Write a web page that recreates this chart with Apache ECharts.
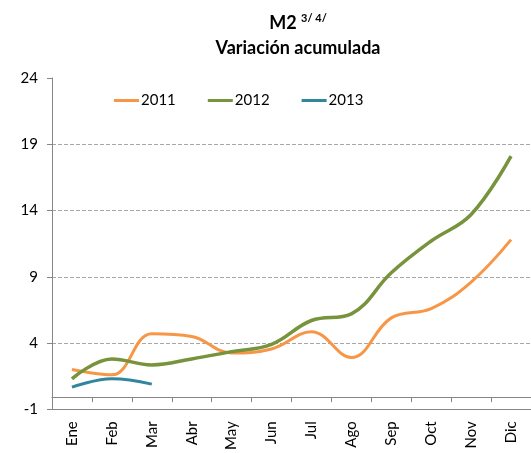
<!DOCTYPE html>
<html>
<head>
<meta charset="utf-8">
<script src="https://cdn.jsdelivr.net/npm/echarts@6/dist/echarts.min.js"></script>
<style>
  html, body { margin: 0; padding: 0; background: #fff; }
  #chart { width: 531px; height: 453px; }
</style>
</head>
<body>
<div id="chart"></div>
<script>
  // meses
  var months = ['Ene', 'Feb', 'Mar', 'Abr', 'May', 'Jun', 'Jul', 'Ago', 'Sep', 'Oct', 'Nov', 'Dic'];
  var yTicks = [-1, 4, 9, 14, 19, 24];

  var data2011 = [2.0, 1.6, 4.7, 4.5, 3.25, 3.55, 4.85, 2.9, 5.9, 6.6, 8.6, 11.8];
  var data2012 = [1.3, 2.8, 2.35, 2.8, 3.35, 3.9, 5.7, 6.2, 9.3, 11.7, 13.7, 18.1];
  var data2013 = [0.67, 1.3, 0.9];

  var font = 'Lato';
  var myChart = echarts.init(document.getElementById('chart'));

  var option = {
    backgroundColor: '#fff',
    animation: false,
    textStyle: { fontFamily: font },
    title: [
      {
        text: '{a|M2} {b|3/ 4/}',
        left: 293,
        textAlign: 'center',
        top: 8,
        textStyle: {
          rich: {
            a: { fontFamily: font, fontSize: 18, fontWeight: 'bold', color: '#000' },
            b: { fontFamily: font, fontSize: 11, fontWeight: 'bold', color: '#000', padding: [0, 0, 9, 0] }
          }
        }
      },
      {
        text: 'Variación acumulada',
        left: 293,
        textAlign: 'center',
        top: 34,
        textStyle: { fontFamily: font, fontSize: 18, fontWeight: 'bold', color: '#000' }
      }
    ],
    legend: {
      left: 114,
      top: 93,
      padding: 0,
      icon: 'rect',
      itemWidth: 25,
      itemHeight: 3,
      itemGap: 32,
      textStyle: { fontFamily: font, fontSize: 15, color: '#000', padding: [0, 0, 0, -3] },
      data: ['2011', '2012', '2013']
    },
    grid: [
      { left: 52, right: -8, top: 78, bottom: 42.5 },
      // franja entre 0 y -1, solo para dibujar el eje de categorías en cero
      { left: 52, right: -8, top: 397.2, bottom: 42.5 }
    ],
    xAxis: [
      {
        type: 'category',
        gridIndex: 0,
        data: months,
        position: 'bottom',
        boundaryGap: true,
        axisLine: { onZero: false, lineStyle: { color: '#868686', width: 1 } },
        axisTick: { show: false },
        axisLabel: {
          rotate: 90,
          margin: 12,
          fontFamily: font,
          fontSize: 15,
          color: '#000'
        },
        splitLine: { show: false }
      },
      {
        type: 'category',
        gridIndex: 1,
        data: months,
        position: 'top',
        boundaryGap: true,
        axisLine: { show: true, onZero: false, lineStyle: { color: '#868686', width: 1 } },
        axisTick: { show: true, inside: true, length: 5, lineStyle: { color: '#868686' } },
        axisLabel: { show: false },
        splitLine: { show: false }
      }
    ],
    yAxis: [
      {
        type: 'value',
        gridIndex: 0,
        min: yTicks[0],
        max: yTicks[yTicks.length - 1],
        interval: 5,
        axisLine: { show: true, lineStyle: { color: '#868686' } },
        axisTick: { show: true, length: 5, lineStyle: { color: '#868686' } },
        axisLabel: { margin: 14, fontFamily: font, fontSize: 15, color: '#000' },
        splitLine: {
          show: true,
          lineStyle: {
            type: 'dashed',
            color: ['rgba(0,0,0,0)', '#a6a6a6', '#a6a6a6', '#a6a6a6', '#a6a6a6', 'rgba(0,0,0,0)']
          }
        }
      },
      {
        type: 'value',
        gridIndex: 1,
        min: -1,
        max: 0,
        axisLine: { show: false },
        axisTick: { show: false },
        axisLabel: { show: false },
        splitLine: { show: false }
      }
    ],
    series: [
      {
        name: '2011',
        type: 'line',
        data: data2011,
        smooth: 0.4,
        symbol: 'none',
        color: '#F79646',
        lineStyle: { width: 3, color: '#F79646' }
      },
      {
        name: '2012',
        type: 'line',
        data: data2012,
        smooth: 0.4,
        symbol: 'none',
        color: '#77933C',
        lineStyle: { width: 3.5, color: '#77933C' }
      },
      {
        name: '2013',
        type: 'line',
        data: data2013,
        smooth: 0.4,
        symbol: 'none',
        color: '#31859C',
        lineStyle: { width: 3, color: '#31859C' }
      }
    ]
  };

  myChart.setOption(option);
</script>
</body>
</html>
